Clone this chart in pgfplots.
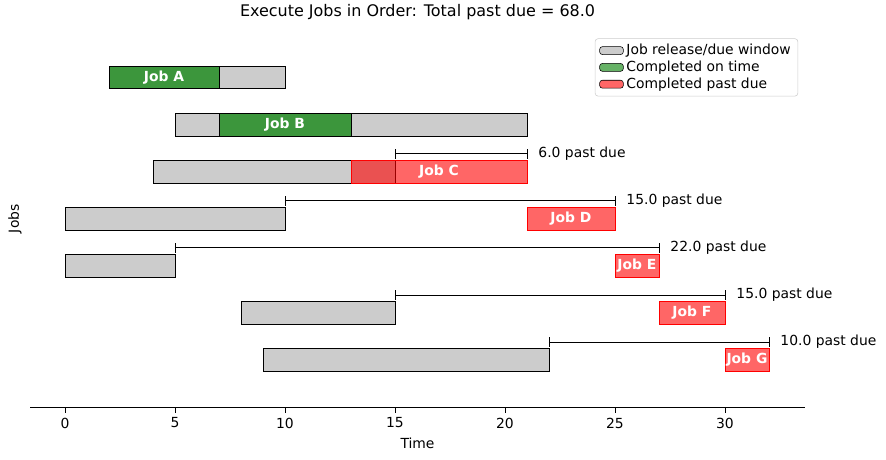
\documentclass[border=0pt]{standalone}
\usepackage{pgfplots}
\pgfplotsset{compat=1.18}
\usepackage{fontspec}
\setmainfont{DejaVu Sans}
\definecolor{gwin}{HTML}{CCCCCC}
\definecolor{mgreen}{RGB}{0,128,0}
\definecolor{mred}{RGB}{255,0,0}
\newcommand{\gbar}[4]{\addplot[draw=black,line width=0.6pt,fill=gwin] coordinates {(#1,#3)(#2,#3)(#2,#4)(#1,#4)} --cycle;}
\newcommand{\okbar}[4]{\addplot[draw=black,line width=0.6pt,fill=mgreen,fill opacity=0.7] coordinates {(#1,#3)(#2,#3)(#2,#4)(#1,#4)} --cycle;}
\newcommand{\latebar}[4]{\addplot[draw=mred,line width=0.6pt,fill=mred,fill opacity=0.6] coordinates {(#1,#3)(#2,#3)(#2,#4)(#1,#4)} --cycle;}
\newcommand{\brk}[5]{\addplot[black,line width=0.6pt] coordinates {(#1,#3)(#2,#3)};
\addplot[black,line width=0.6pt] coordinates {(#1,#4)(#1,#5)};
\addplot[black,line width=0.6pt] coordinates {(#2,#4)(#2,#5)};}
\begin{document}
\begin{tikzpicture}
\begin{axis}[name=ax, scale only axis, width=558pt, height=271pt,
 xmin=-1.59, xmax=33.64, ymin=0, ymax=8,
 axis x line*=bottom, axis y line=none,
 xtick={0,5,...,30}, tick align=outside, x tick style={black},
 xlabel={Time}, font=\fontsize{10}{12}\selectfont,
 /pgf/number format/assume math mode=true,
 title={\fontsize{11.5}{13}\selectfont Execute Jobs in Order: Total past due = 68.0},
 title style={yshift=-2pt},
 clip=false,
 legend cell align=left,
 legend style={at={(rel axis cs:0.991,0.979)},anchor=north east,draw=gray!40,rounded corners=2pt,font=\fontsize{10}{12}\selectfont,row sep=-1pt},
]
\addlegendimage{area legend,fill=gwin,draw=none}\addlegendentry{Job release/due window}
\addlegendimage{area legend,fill=mgreen,fill opacity=0.6,draw=none}\addlegendentry{Completed on time}
\addlegendimage{area legend,fill=mred,fill opacity=0.6,draw=none}\addlegendentry{Completed past due}
% A y=7
\gbar{2}{10}{6.76}{7.24}
\okbar{2}{7}{6.76}{7.24}
% B y=6
\gbar{5}{21}{5.76}{6.24}
\okbar{7}{13}{5.76}{6.24}
% C y=5
\gbar{4}{15}{4.76}{5.24}
\latebar{13}{21}{4.76}{5.24}
\brk{15}{21}{5.38}{5.28}{5.48}
% D y=4
\gbar{0}{10}{3.76}{4.24}
\latebar{21}{25}{3.76}{4.24}
\brk{10}{25}{4.38}{4.28}{4.48}
% E y=3
\gbar{0}{5}{2.76}{3.24}
\latebar{25}{27}{2.76}{3.24}
\brk{5}{27}{3.38}{3.28}{3.48}
% F y=2
\gbar{8}{15}{1.76}{2.24}
\latebar{27}{30}{1.76}{2.24}
\brk{15}{30}{2.38}{2.28}{2.48}
% G y=1
\gbar{9}{22}{0.76}{1.24}
\latebar{30}{32}{0.76}{1.24}
\brk{22}{32}{1.38}{1.28}{1.48}
\node[text=white,font=\bfseries] at (axis cs:4.5,7) {Job A};
\node[text=white,font=\bfseries] at (axis cs:10,6) {Job B};
\node[text=white,font=\bfseries] at (axis cs:17,5) {Job C};
\node[text=white,font=\bfseries] at (axis cs:23,4) {Job D};
\node[text=white,font=\bfseries] at (axis cs:26,3) {Job E};
\node[text=white,font=\bfseries] at (axis cs:28.5,2) {Job F};
\node[text=white,font=\bfseries] at (axis cs:31,1) {Job G};
\node[anchor=west] at (axis cs:21.3,5.38) {6.0 past due};
\node[anchor=west] at (axis cs:25.3,4.38) {15.0 past due};
\node[anchor=west] at (axis cs:27.3,3.38) {22.0 past due};
\node[anchor=west] at (axis cs:30.3,2.38) {15.0 past due};
\node[anchor=west] at (axis cs:32.3,1.38) {10.0 past due};
\node[rotate=90] at (rel axis cs:-0.0195,0.5) {Jobs};
\end{axis}
\path[use as bounding box] ([shift={(-21.6pt,-38.2pt)}]ax.south west) rectangle ([shift={(58.3pt,21.6pt)}]ax.north east);
\end{tikzpicture}
\end{document}
